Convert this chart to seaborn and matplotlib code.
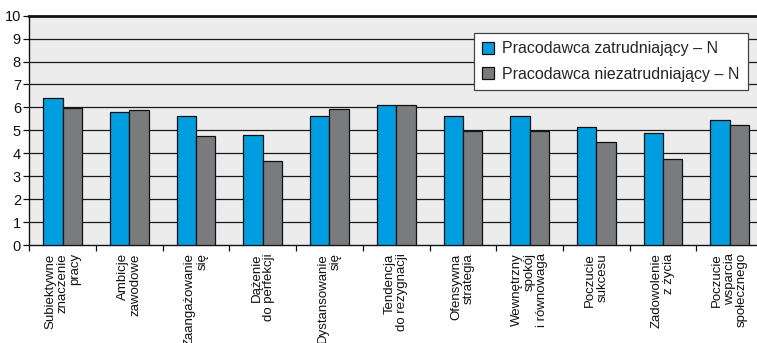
import matplotlib
matplotlib.use("Agg")
import matplotlib.pyplot as plt
import numpy as np
import pandas as pd
import seaborn as sns

categories = [
    "Subiektywne\nznaczenie\npracy",
    "Ambicje\nzawodowe",
    "Zaangażowanie\nsię",
    "Dążenie\ndo perfekcji",
    "Dystansowanie\nsię",
    "Tendencja\ndo rezygnacji",
    "Ofensywna\nstrategia",
    "Wewnętrzny\nspokój\ni równowaga",
    "Poczucie\nsukcesu",
    "Zadowolenie\nz życia",
    "Poczucie\nwsparcia\nspołecznego",
]
series_names = ["Pracodawca zatrudniający – N", "Pracodawca niezatrudniający – N"]
employing = [6.42, 5.79, 5.61, 4.81, 5.61, 6.09, 5.61, 5.61, 5.13, 4.87, 5.45]
not_employing = [5.96, 5.87, 4.74, 3.68, 5.94, 6.09, 4.97, 4.97, 4.48, 3.75, 5.22]
y_ticks = list(range(0, 11))

sns.set_theme(style="white")
plt.rcParams["font.family"] = ["Liberation Sans", "DejaVu Sans"]

df = pd.DataFrame({
    "kategoria": categories * 2,
    "seria": [series_names[0]] * len(categories) + [series_names[1]] * len(categories),
    "wartosc": employing + not_employing,
})

fig = plt.figure(figsize=(7.57, 3.43), dpi=100)
ax = fig.add_axes([0.0387, 0.2857, 1.008 - 0.0387, 0.9542 - 0.2857])
ax.set_facecolor("#EBECEB")

palette = {series_names[0]: "#009EE0", series_names[1]: "#7A7B7D"}
sns.barplot(data=df, x="kategoria", y="wartosc", hue="seria", order=categories,
            hue_order=series_names, palette=palette, width=0.58, gap=0,
            saturation=1, edgecolor="#111111", linewidth=0.9, ax=ax, zorder=3)

ax.set_xlim(-0.5, len(categories) - 0.5)
ax.set_ylim(0, 10)
ax.set_yticks(y_ticks)
ax.set_yticklabels([str(t) for t in y_ticks], fontsize=10.5, color="#111111")
for t in y_ticks[1:]:
    ax.axhline(t, color="#1a1a1a", lw=0.9, zorder=1)

# category separators as ticks, labels at category centres
ax.set_xticks(np.arange(-0.5, len(categories), 1.0))
ax.set_xticklabels([])
ax.set_xticks(np.arange(len(categories)), minor=True)
ax.set_xticklabels(categories, minor=True, rotation=90, fontsize=9.5,
                   ha="center", va="top", multialignment="right",
                   linespacing=1.05, color="#111111")
ax.tick_params(axis="x", which="major", direction="out", length=4, width=0.9,
               color="#111111", bottom=True)
ax.tick_params(axis="x", which="minor", length=0, pad=6)
ax.tick_params(axis="y", direction="out", length=4, width=0.9, color="#111111",
               left=True, pad=2)
ax.set_xlabel("")
ax.set_ylabel("")

for side in ["left", "bottom"]:
    ax.spines[side].set_color("#111111")
    ax.spines[side].set_linewidth(1.0)
ax.spines["top"].set_color("#111111")
ax.spines["top"].set_linewidth(2.0)
ax.spines["right"].set_visible(False)

leg = ax.legend(loc="upper right", bbox_to_anchor=(0.979, 0.923), borderaxespad=0,
                fontsize=11.5, frameon=True, fancybox=False, handlelength=0.8,
                handleheight=0.8, handletextpad=0.5, labelspacing=0.65,
                borderpad=0.5)
leg.get_frame().set_edgecolor("#444444")
leg.get_frame().set_linewidth(0.9)
leg.get_frame().set_facecolor("white")
leg.get_frame().set_alpha(1)

fig.savefig("out.png", dpi=100)
